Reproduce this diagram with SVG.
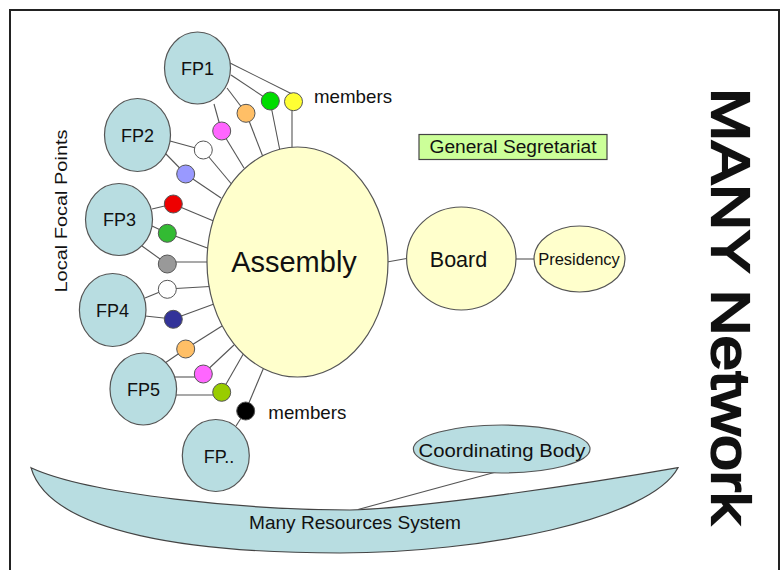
<svg xmlns="http://www.w3.org/2000/svg" width="780" height="570" viewBox="0 0 780 570">
<style>
text{font-family:"Liberation Sans",Arial,sans-serif;fill:#111}
.fp{fill:#b8dde1;stroke:#555;stroke-width:1.2}
.yl{fill:#ffffcc;stroke:#555;stroke-width:1.2}
.dot{stroke:#555;stroke-width:1}
.c line,.c path{stroke:#555;stroke-width:1.1;fill:none}
.mid{text-anchor:middle}
</style>
<rect width="780" height="570" fill="#fff"/>
<path d="M10,570 V10 H779 V570" fill="none" stroke="#222" stroke-width="2"/>

<g id="band">
<path d="M31,467.7 C90,495 250,510 350,510 C420,508 580,485 678,467.7 C650,520 480,553 340,553 C200,553 50,535 31,467.7 Z" fill="#b8dde1" stroke="#444" stroke-width="1.2"/>
<text x="355" y="529" font-size="18.5" class="mid" textLength="212" lengthAdjust="spacingAndGlyphs">Many Resources System</text>
</g>

<g class="c" id="connectors">
<line x1="230" y1="63" x2="292" y2="94"/>
<line x1="292" y1="102" x2="292" y2="152"/>
<line x1="231" y1="75" x2="270" y2="101"/>
<line x1="270" y1="101" x2="280" y2="151"/>
<line x1="227" y1="88" x2="246" y2="113"/>
<line x1="246" y1="113" x2="263" y2="157"/>
<line x1="214" y1="104" x2="221.5" y2="131"/>
<line x1="221.5" y1="131" x2="244" y2="168"/>
<line x1="170" y1="141" x2="203" y2="150"/>
<line x1="203" y1="150" x2="234" y2="187"/>
<line x1="165" y1="153" x2="185.5" y2="174"/>
<line x1="185.5" y1="174" x2="221" y2="198"/>
<line x1="152" y1="209" x2="173" y2="204"/>
<line x1="173" y1="204" x2="216" y2="222"/>
<line x1="152" y1="226" x2="167" y2="233"/>
<line x1="167" y1="233" x2="210" y2="249"/>
<line x1="142" y1="246" x2="167" y2="264"/>
<line x1="167" y1="262" x2="210" y2="262"/>
<line x1="145" y1="298" x2="167" y2="289"/>
<line x1="167" y1="289" x2="210" y2="286.5"/>
<line x1="145" y1="316" x2="173" y2="319"/>
<line x1="173" y1="319" x2="214" y2="304"/>
<line x1="165" y1="363" x2="185.5" y2="349"/>
<line x1="185.5" y1="349" x2="222" y2="326"/>
<line x1="175" y1="377" x2="203" y2="377"/>
<line x1="203" y1="374" x2="234" y2="345"/>
<line x1="176" y1="395" x2="221.5" y2="395"/>
<line x1="221.5" y1="392" x2="245" y2="351"/>
<line x1="236" y1="426" x2="245.5" y2="411"/>
<line x1="245.5" y1="411" x2="264" y2="367"/>
<line x1="387" y1="262" x2="408" y2="258.3"/>
<line x1="515" y1="259" x2="535" y2="259"/>
<line x1="358" y1="509.5" x2="496" y2="472"/>
</g>

<g id="assembly">
<ellipse cx="297.5" cy="262" rx="90.5" ry="115" class="yl"/>
<text x="294" y="271.5" font-size="29" class="mid">Assembly</text>
</g>
<g id="board">
<ellipse cx="461.3" cy="258.5" rx="54.7" ry="51.5" class="yl"/>
<text x="458.5" y="266.5" font-size="21.5" class="mid">Board</text>
</g>
<g id="presidency">
<ellipse cx="579.5" cy="259" rx="45.5" ry="33" class="yl"/>
<text x="579" y="265" font-size="16.5" class="mid">Presidency</text>
</g>
<g id="secretariat">
<rect x="419" y="134.5" width="188" height="25" fill="#ccff99" stroke="#444" stroke-width="1.2"/>
<text x="513" y="153.3" font-size="17.5" class="mid" textLength="167" lengthAdjust="spacingAndGlyphs">General Segretariat</text>
</g>
<g id="coordinating">
<ellipse cx="501.7" cy="449" rx="88.3" ry="24" class="fp"/>
<text x="502" y="457.3" font-size="17.5" class="mid" textLength="167" lengthAdjust="spacingAndGlyphs">Coordinating Body</text>
</g>

<g id="fp1"><ellipse cx="197.5" cy="68" rx="33" ry="36" class="fp"/><text x="197.5" y="74.5" font-size="18" class="mid">FP1</text></g>
<g id="fp2"><ellipse cx="137.5" cy="135" rx="33" ry="36.5" class="fp"/><text x="137.5" y="141.5" font-size="18" class="mid">FP2</text></g>
<g id="fp3"><ellipse cx="119" cy="219.5" rx="33.5" ry="36" class="fp"/><text x="119.5" y="226" font-size="18" class="mid">FP3</text></g>
<g id="fp4"><ellipse cx="112.7" cy="310" rx="33.3" ry="36.5" class="fp"/><text x="112.5" y="316.5" font-size="18" class="mid">FP4</text></g>
<g id="fp5"><ellipse cx="143.3" cy="389" rx="33.3" ry="36" class="fp"/><text x="143.5" y="395.5" font-size="18" class="mid">FP5</text></g>
<g id="fpdots"><ellipse cx="215.8" cy="455.5" rx="33.5" ry="36" class="fp"/><text x="219" y="463" font-size="18" class="mid">FP..</text></g>

<g id="members-top">
<circle cx="293.5" cy="101.7" r="9" fill="#ffff33" class="dot"/>
<circle cx="270.3" cy="101" r="9" fill="#00dd00" class="dot"/>
<circle cx="246" cy="113.3" r="9" fill="#ffbf66" class="dot"/>
<circle cx="221.7" cy="131" r="9" fill="#ff66ff" class="dot"/>
<circle cx="203.3" cy="150" r="9" fill="#ffffff" class="dot"/>
<circle cx="185.7" cy="174" r="9" fill="#9999ff" class="dot"/>
<circle cx="173.3" cy="204" r="9" fill="#ee0000" class="dot"/>
<circle cx="167.3" cy="233.3" r="9" fill="#33bb33" class="dot"/>
<circle cx="167.3" cy="264" r="9" fill="#999999" class="dot"/>
<circle cx="167.3" cy="289.3" r="9" fill="#ffffff" class="dot"/>
<circle cx="173.3" cy="319.3" r="9" fill="#333399" class="dot"/>
<circle cx="185.7" cy="349" r="9" fill="#ffbf66" class="dot"/>
<circle cx="203.3" cy="374" r="9" fill="#ff66ff" class="dot"/>
<circle cx="221.7" cy="392.3" r="9" fill="#99cc00" class="dot"/>
<circle cx="245.7" cy="411" r="9" fill="#000000" class="dot"/>
<text x="314" y="102.5" font-size="18.5" textLength="78" lengthAdjust="spacingAndGlyphs">members</text>
<text x="268.3" y="418.5" font-size="18.5" textLength="78" lengthAdjust="spacingAndGlyphs">members</text>
</g>

<g id="labels">
<text x="66.5" y="211" font-size="17" class="mid" transform="rotate(-90 66.5 211)" textLength="163" lengthAdjust="spacingAndGlyphs">Local Focal Points</text>
<text x="712" y="306" font-size="53" class="mid" transform="rotate(90 712 306)" textLength="436" lengthAdjust="spacingAndGlyphs" stroke="#111" stroke-width="2.2">MANY Network</text>
</g>
</svg>
